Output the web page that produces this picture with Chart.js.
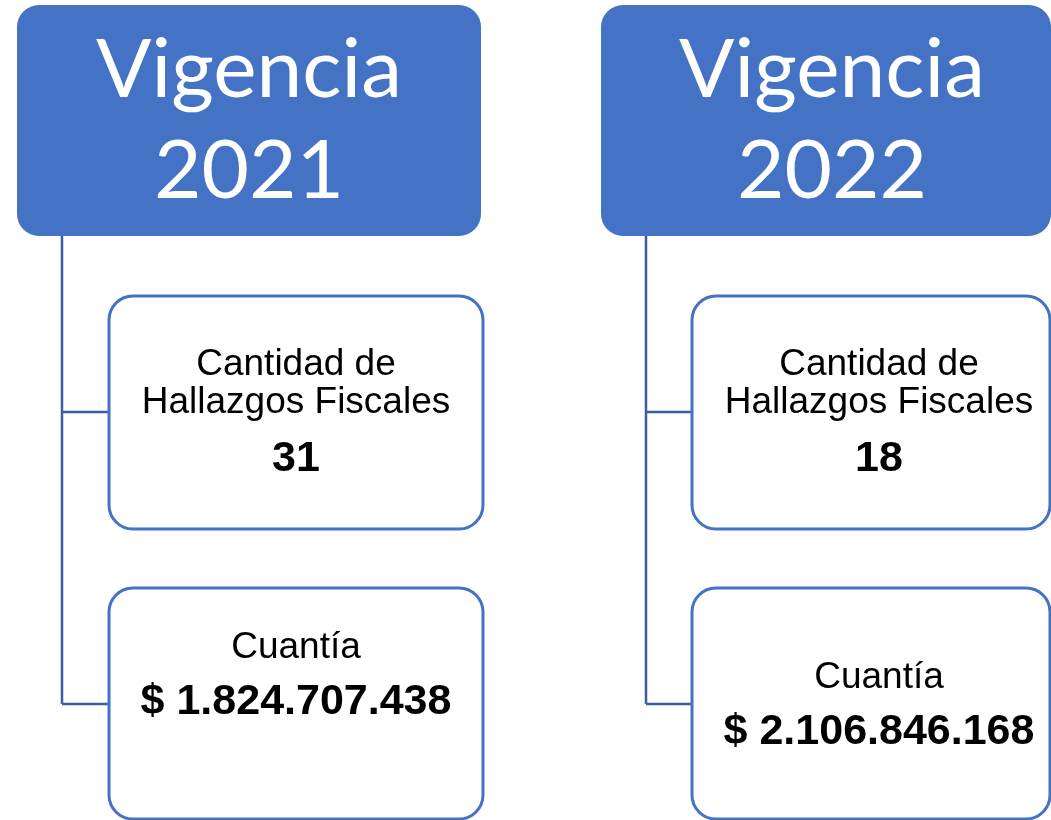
<!DOCTYPE html>
<html>
<head>
<meta charset="utf-8">
<script src="https://cdn.jsdelivr.net/npm/chart.js@4.4.1/dist/chart.umd.min.js"></script>
<style>
  html, body { margin: 0; padding: 0; background: #fff; }
  #wrap { width: 1051px; height: 820px; }
</style>
</head>
<body>
<div id="wrap"><canvas id="c" width="1051" height="820"></canvas></div>
<script>
// Datos del diagrama
const vigencias  = ['2021', '2022'];
const hallazgos  = [31, 18];
const cuantias   = [1824707438, 2106846168];
const tituloHdr  = 'Vigencia';
const lblHall    = ['Cantidad de', 'Hallazgos Fiscales'];
const lblCuantia = 'Cuantía';

const C = {
  blue:  '#4472C4',
  line:  '#3B5DA6',
  text:  '#000000',
};

// posiciones (en unidades del eje, 0..1051 x 0..820)
const cols = [
  { hdr: [17, 5, 481, 236], hdrCx: 249, conX: 62,  box: [109, 483], boxCx: 296 },
  { hdr: [601, 5, 1051, 236], hdrCx: 832, conX: 646, box: [692, 1050], boxCx: 879 },
];
const box1Y = [296, 529];
const box2Y = [588, 819];
const conY  = [412, 704];

const fmtPesos = n => '$ ' + String(n).replace(/\B(?=(\d{3})+(?!\d))/g, '.');

function rr(ctx, x0, y0, x1, y1, r) {
  ctx.beginPath();
  ctx.moveTo(x0 + r, y0);
  ctx.lineTo(x1 - r, y0);
  ctx.arcTo(x1, y0, x1, y0 + r, r);
  ctx.lineTo(x1, y1 - r);
  ctx.arcTo(x1, y1, x1 - r, y1, r);
  ctx.lineTo(x0 + r, y1);
  ctx.arcTo(x0, y1, x0, y1 - r, r);
  ctx.lineTo(x0, y0 + r);
  ctx.arcTo(x0, y0, x0 + r, y0, r);
  ctx.closePath();
}

const diagrama = {
  id: 'diagrama',
  afterDraw(chart) {
    const { ctx } = chart;
    const sx = chart.scales.x, sy = chart.scales.y;
    const X = v => sx.getPixelForValue(v), Y = v => sy.getPixelForValue(v);
    ctx.save();
    vigencias.forEach((yr, i) => {
      const col = cols[i];
      const [hx0, hy0, hx1, hy1] = col.hdr;

      // conectores
      ctx.strokeStyle = C.line; ctx.lineWidth = 2.5;
      ctx.beginPath();
      ctx.moveTo(X(col.conX), Y(hy1));
      ctx.lineTo(X(col.conX), Y(conY[1]));
      conY.forEach(cy => { ctx.moveTo(X(col.conX), Y(cy)); ctx.lineTo(X(col.box[0]), Y(cy)); });
      ctx.stroke();

      // encabezado
      rr(ctx, X(hx0), Y(hy0), X(hx1), Y(hy1), 22);
      ctx.fillStyle = C.blue; ctx.fill();
      ctx.fillStyle = '#fff';
      ctx.textAlign = 'center'; ctx.textBaseline = 'alphabetic';
      ctx.font = "82px Lato, 'Open Sans', sans-serif";
      ctx.fillText(tituloHdr, X(col.hdrCx), Y(97));
      ctx.fillText(yr, X(col.hdrCx), Y(198));

      // cajas
      ctx.strokeStyle = C.blue; ctx.lineWidth = 3;
      [box1Y, box2Y].forEach(([y0, y1]) => {
        rr(ctx, X(col.box[0]), Y(y0), X(col.box[1]), Y(y1), 24);
        ctx.fillStyle = '#fff'; ctx.fill(); ctx.stroke();
      });

      const cx = X(col.boxCx);
      ctx.fillStyle = C.text;
      ctx.font = "37px 'Liberation Sans', Arial, sans-serif";
      ctx.fillText(lblHall[0], cx, Y(375));
      ctx.fillText(lblHall[1], cx, Y(413));
      ctx.font = "bold 43px 'Liberation Sans', Arial, sans-serif";
      ctx.fillText(String(hallazgos[i]), cx, Y(471));

      const off = i === 0 ? 0 : 30;
      ctx.font = "37px 'Liberation Sans', Arial, sans-serif";
      ctx.fillText(lblCuantia, cx, Y(658 + off));
      ctx.font = "bold 43px 'Liberation Sans', Arial, sans-serif";
      ctx.fillText(fmtPesos(cuantias[i]), cx, Y(714 + off));
    });
    ctx.restore();
  }
};

new Chart(document.getElementById('c'), {
  type: 'scatter',
  data: { datasets: [{ data: [] }] },
  options: {
    responsive: false,
    animation: false,
    layout: { padding: 0 },
    plugins: { legend: { display: false }, tooltip: { enabled: false } },
    scales: {
      x: { type: 'linear', min: 0, max: 1051, display: false },
      y: { type: 'linear', min: 0, max: 820, reverse: true, display: false },
    },
  },
  plugins: [diagrama],
});
</script>
</body>
</html>
